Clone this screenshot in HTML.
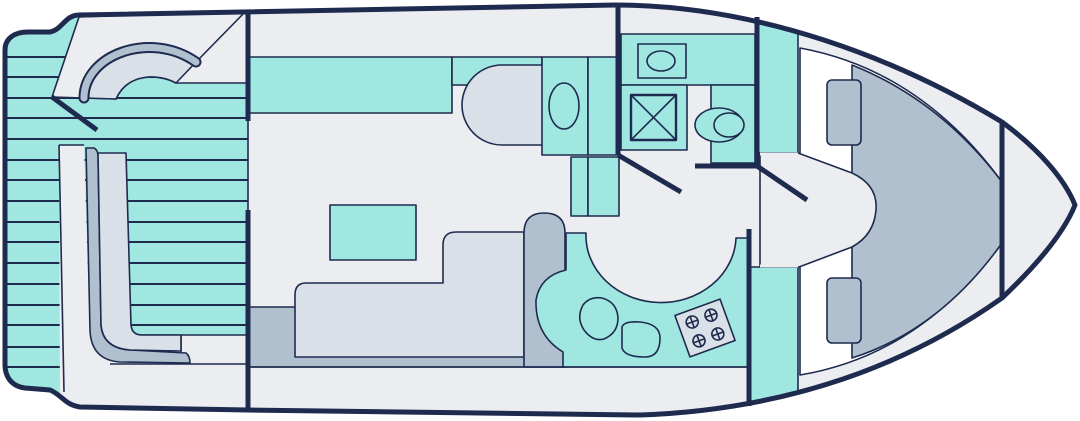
<!DOCTYPE html>
<html><head><meta charset="utf-8"><style>html,body{margin:0;padding:0;background:#fff}svg{display:block}</style></head>
<body>
<svg width="1080" height="421" viewBox="0 0 1080 421" xmlns="http://www.w3.org/2000/svg">
<defs>
<clipPath id="hc"><path d="M79,15 L615,5 C760,5 900,60 1002,122 C1040,150 1065,180 1075,205 C1065,230 1040,262 1002,298 C900,370 780,410 640,415 L248,410 L80,407 C65,405 62,395 50,390 L25,388 C10,386 5,375 5,365 L5,50 C5,38 15,32 28,32 L50,32 C62,30 65,15 79,15 Z"/></clipPath>
</defs>
<g stroke="#1e2b4f" stroke-width="1.6" stroke-linejoin="round">
<path d="M79,15 L615,5 C760,5 900,60 1002,122 C1040,150 1065,180 1075,205 C1065,230 1040,262 1002,298 C900,370 780,410 640,415 L248,410 L80,407 C65,405 62,395 50,390 L25,388 C10,386 5,375 5,365 L5,50 C5,38 15,32 28,32 L50,32 C62,30 65,15 79,15 Z" fill="#ebedf0" stroke="none"/>
<g clip-path="url(#hc)">
<rect x="0" y="0" width="248" height="421" fill="#9fe7e0" stroke="none"/>
<g stroke-width="2">
<line x1="0" y1="57" x2="248" y2="57"/><line x1="0" y1="77" x2="248" y2="77"/><line x1="0" y1="98" x2="248" y2="98"/><line x1="0" y1="118" x2="248" y2="118"/><line x1="0" y1="139" x2="248" y2="139"/><line x1="0" y1="160" x2="248" y2="160"/><line x1="0" y1="180" x2="248" y2="180"/><line x1="0" y1="201" x2="248" y2="201"/><line x1="0" y1="222" x2="248" y2="222"/><line x1="0" y1="242" x2="248" y2="242"/><line x1="0" y1="263" x2="248" y2="263"/><line x1="0" y1="284" x2="248" y2="284"/><line x1="0" y1="305" x2="248" y2="305"/><line x1="0" y1="325" x2="248" y2="325"/><line x1="0" y1="347" x2="248" y2="347"/><line x1="0" y1="367" x2="248" y2="367"/>
</g>
<path d="M79,17 L248,11 L248,83 L176,83 C160,74 128,72 116,99 L52,97 Z" fill="#ebedf0"/>
<path d="M84,98 C84,55 150,30 196,62 L176,83 C160,74 128,72 116,99 Z" fill="#d9e0e8"/>
<line x1="198" y1="60" x2="245" y2="12"/>
<path d="M59,145 L84,145 L90,335 L248,335 L248,421 L60,421 Z" fill="#ebedf0" stroke="none"/>
<line x1="59" y1="145" x2="64" y2="392"/><line x1="59" y1="145" x2="84" y2="145"/>
<line x1="134" y1="335" x2="248" y2="335"/><line x1="110" y1="364" x2="248" y2="364"/>
<line x1="181" y1="335" x2="181" y2="355"/>
<line x1="248" y1="121" x2="248" y2="210"/>
<path d="M86,148 L94,148 Q98,150 98,156 L101,325 Q103,348 130,350 L186,353 Q190,356 190,363 L120,362 Q91,360 90,330 Z" fill="#b0c0cf"/>
<path d="M98,153 L126,153 L131,325 Q132,335 142,335 L181,335 L181,351 L130,350 Q103,348 101,325 Z" fill="#d9e0e8"/>
<rect x="248" y="307" width="318" height="60" fill="#b0c0cf"/>
<path d="M306,283 L443,283 L443,245 Q443,232 456,232 L524,232 L524,357 L295,357 L295,295 Q295,283 306,283 Z" fill="#d9e0e8"/>
<path d="M524,367 L524,233 Q524,213 544,213 Q565,213 565,233 L565,367 Z" fill="#b0c0cf"/>
<rect x="330" y="205" width="86" height="55" fill="#9fe7e0"/>
<rect x="248" y="57" width="204" height="56" fill="#9fe7e0"/>
<rect x="452" y="57" width="90" height="28" fill="#9fe7e0"/>
<path d="M502,65 L545,65 L545,145 L502,145 A40,40 0 0 1 502,65 Z" fill="#d9e0e8"/>
<rect x="542" y="57" width="46" height="98" fill="#9fe7e0"/>
<ellipse cx="564" cy="106" rx="15" ry="23" fill="#9fe7e0"/>
<rect x="588" y="57" width="29" height="98" fill="#9fe7e0"/>
<rect x="571" y="157" width="17" height="59" fill="#9fe7e0"/>
<rect x="588" y="157" width="31" height="59" fill="#9fe7e0"/>
<rect x="621" y="34" width="134" height="51" fill="#9fe7e0"/>
<rect x="638" y="44" width="48" height="34" fill="#9fe7e0"/>
<ellipse cx="661" cy="61" rx="14" ry="10" fill="#9fe7e0"/>
<rect x="621" y="85" width="66" height="65" fill="#9fe7e0"/>
<rect x="631" y="95" width="45" height="45" fill="#9fe7e0" stroke-width="2.4"/>
<line x1="631" y1="95" x2="676" y2="140"/><line x1="676" y1="95" x2="631" y2="140"/>
<rect x="711" y="85" width="44" height="78" fill="#9fe7e0"/>
<ellipse cx="719" cy="125" rx="24" ry="17" fill="#9fe7e0"/>
<ellipse cx="729" cy="125" rx="15" ry="12" fill="#9fe7e0"/>
<rect x="757" y="18" width="41" height="135" fill="#9fe7e0"/>
<rect x="750" y="267" width="48" height="150" fill="#9fe7e0"/>
<path d="M800,48 Q920,70 1002,182 L1002,243 Q920,355 800,375 Z" fill="#fff"/>
<path d="M852,65 Q940,100 1002,182 L1002,243 Q940,330 852,358 Z" fill="#b0c0cf"/>
<rect x="827" y="80" width="34" height="65" rx="5" fill="#b0c0cf"/>
<rect x="827" y="278" width="34" height="65" rx="5" fill="#b0c0cf"/>
<path d="M798,153 L852,173 Q878,185 876,210 Q874,235 852,247 L799,267 L760,267 L760,153 Z" fill="#ebedf0"/>
<path d="M760,154 L798,154 M760,266 L798,266" stroke="#ebedf0" stroke-width="3"/>
<path d="M566,233 L586,233 A75,67 0 0 0 736,238 L749,238 L749,367 L563,367 L563,352 Q535,335 536,300 Q540,276 566,270 Z" fill="#9fe7e0"/>
<path d="M583,305 Q590,296 602,298 Q617,302 618,318 Q618,333 604,339 Q593,342 584,330 Q576,318 583,305 Z" fill="#9fe7e0"/>
<path d="M622,327 Q624,321 640,322 Q660,324 660,338 Q660,357 645,357 Q625,357 622,348 Z" fill="#9fe7e0"/>
<g transform="translate(705,328) rotate(-20)">
<rect x="-24" y="-22" width="48" height="44" fill="#d9e0e8"/>
<g fill="none"><circle cx="-10" cy="-10" r="6"/><circle cx="10" cy="-10" r="6"/><circle cx="-10" cy="10" r="6"/><circle cx="10" cy="10" r="6"/>
<path d="M-16,-10h12M-10,-16v12M4,-10h12M10,-16v12M-16,10h12M-10,4v12M4,10h12M10,4v12"/></g>
</g>
<line x1="248" y1="367" x2="749" y2="367"/>
</g>
<g stroke-width="5" stroke-linecap="butt" fill="none">
<path d="M79,15 L615,5 C760,5 900,60 1002,122 C1040,150 1065,180 1075,205 C1065,230 1040,262 1002,298 C900,370 780,410 640,415 L248,410 L80,407 C65,405 62,395 50,390 L25,388 C10,386 5,375 5,365 L5,50 C5,38 15,32 28,32 L50,32 C62,30 65,15 79,15 Z"/>
<line x1="248" y1="11" x2="248" y2="121"/><line x1="248" y1="210" x2="248" y2="410"/>
<line x1="52" y1="97" x2="97" y2="130"/>
<line x1="618" y1="5" x2="618" y2="155"/><line x1="618" y1="155" x2="681" y2="192"/>
<line x1="757" y1="17" x2="757" y2="166"/><line x1="695" y1="166" x2="759" y2="166"/><line x1="757" y1="166" x2="807" y2="200"/>
<line x1="749" y1="229" x2="749" y2="406"/>
<line x1="1002" y1="122" x2="1002" y2="298"/>
</g>
<path d="M84,98 C84,55 150,30 196,62" fill="none" stroke-width="11" stroke-linecap="round"/>
<path d="M84,98 C84,55 150,30 196,62" fill="none" stroke="#b0c0cf" stroke-width="7" stroke-linecap="round"/>
</g>
</svg>
</body></html>
